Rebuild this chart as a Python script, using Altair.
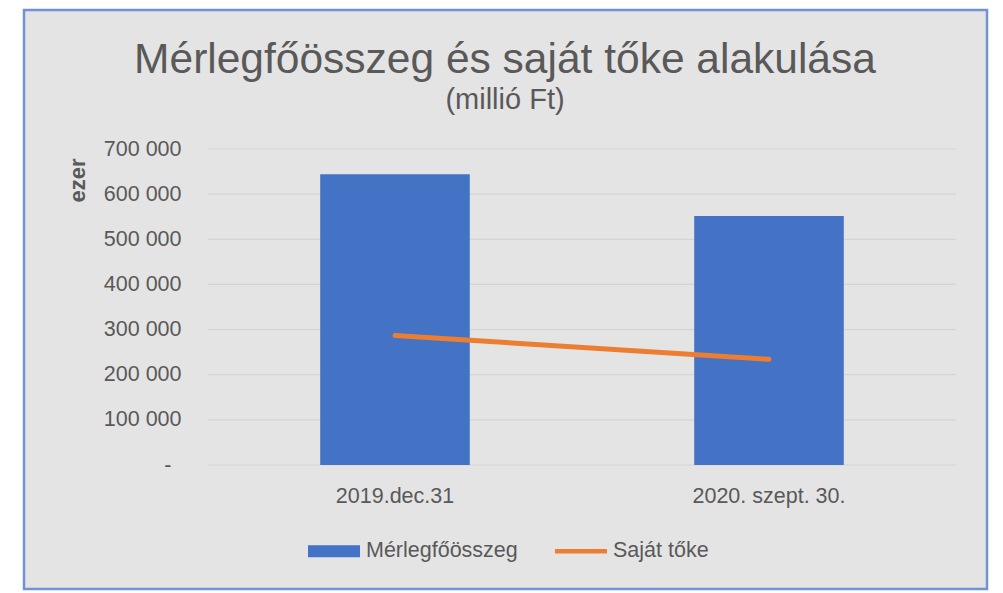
import altair as alt
import pandas as pd

categories = ["2019.dec.31", "2020. szept. 30."]
merleg = [644000, 551500]
sajat = [287000, 234000]
series = ["Mérlegfőösszeg", "Saját tőke"]
y_ticks = [0, 100000, 200000, 300000, 400000, 500000, 600000, 700000]

FONT = "Liberation Sans"
TXT = "#595959"
BLUE = "#4472C4"
ORANGE = "#ED7D31"

bars_df = pd.DataFrame({"cat": categories, "val": merleg})
line_df = pd.DataFrame({"cat": categories, "val": sajat})
grid_df = pd.DataFrame({"val": y_ticks})
leg_df = pd.DataFrame({"series": series})

xenc = alt.X("cat:N", sort=categories,
             scale=alt.Scale(paddingInner=0.6, paddingOuter=0.3),
             axis=alt.Axis(title=None, labelAngle=0, domain=False, ticks=False, grid=False,
                           labelFontSize=21.5, labelColor=TXT, labelFont=FONT,
                           labelPadding=20, zindex=1))
yenc = alt.Y("val:Q", scale=alt.Scale(domain=[0, 700000], nice=False),
             axis=alt.Axis(values=y_ticks, title="ezer", domain=False, ticks=False,
                           grid=False, zindex=1,
                           labelFontSize=21.5, labelColor=TXT, labelFont=FONT,
                           labelPadding={"condition": {"test": "datum.value == 0", "value": 37},
                                         "value": 27},
                           labelExpr="datum.value == 0 ? '-' : format(datum.value/1000, 'd') + ' 000'",
                           titleAngle=270, titleX=-131, titleY=31, titleAlign="center",
                           titleBaseline="middle", titleFontSize=22, titleFont=FONT,
                           titleColor=TXT, titleFontWeight="bold"))

box = alt.Chart(pd.DataFrame({"k": [1]})).mark_rect(
    fill="#E4E4E4", stroke="#7193D3", strokeWidth=2.5
).encode(x=alt.value(-184), x2=alt.value(779), y=alt.value(-139), y2=alt.value(440))

grid = alt.Chart(grid_df).mark_rule(color="#D4D4D4", strokeWidth=1.2).encode(y=yenc)

bars = alt.Chart(bars_df).mark_bar(color=BLUE).encode(x=xenc, y=alt.Y("val:Q"))

line = alt.Chart(line_df).mark_line(color=ORANGE, strokeWidth=5, strokeCap="round").encode(
    x=alt.X("cat:N", sort=categories), y=alt.Y("val:Q"))

legend_layer = alt.Chart(leg_df).mark_point(filled=True).encode(
    color=alt.Color("series:N", scale=alt.Scale(domain=series, range=[BLUE, ORANGE]),
                    legend=alt.Legend(title=None, orient="none", legendX=100, legendY=376,
                                      direction="horizontal", padding=0,
                                      labelFontSize=21.5, labelColor=TXT, labelFont=FONT,
                                      labelOffset=6, columnPadding=37, symbolSize=2704,
                                      symbolOpacity=1, symbolStrokeWidth=0)),
    shape=alt.Shape("series:N", scale=alt.Scale(domain=series, range=[
        "M-1,-0.23H1V0.23H-1Z", "M-1,-0.09H1V0.09H-1Z"]), legend=None),
    opacity=alt.value(0),
)

chart = alt.layer(box, grid, bars, line, legend_layer).properties(
    width=748, height=316,
    padding={"left": 200, "top": 141, "right": 34, "bottom": 126},
    autosize=alt.AutoSizeParams(type="none"),
    background="white",
    title=alt.TitleParams(text="Mérlegfőösszeg és saját tőke alakulása",
                          subtitle="(millió Ft)", anchor="middle", dx=-77,
                          fontSize=42.5, subtitleFontSize=29, font=FONT, subtitleFont=FONT,
                          color=TXT, subtitleColor=TXT, fontWeight="normal",
                          offset=-106, subtitlePadding=4),
).configure_view(stroke=None)

chart.save("out.html", embed_options={"renderer": "svg", "actions": False})
